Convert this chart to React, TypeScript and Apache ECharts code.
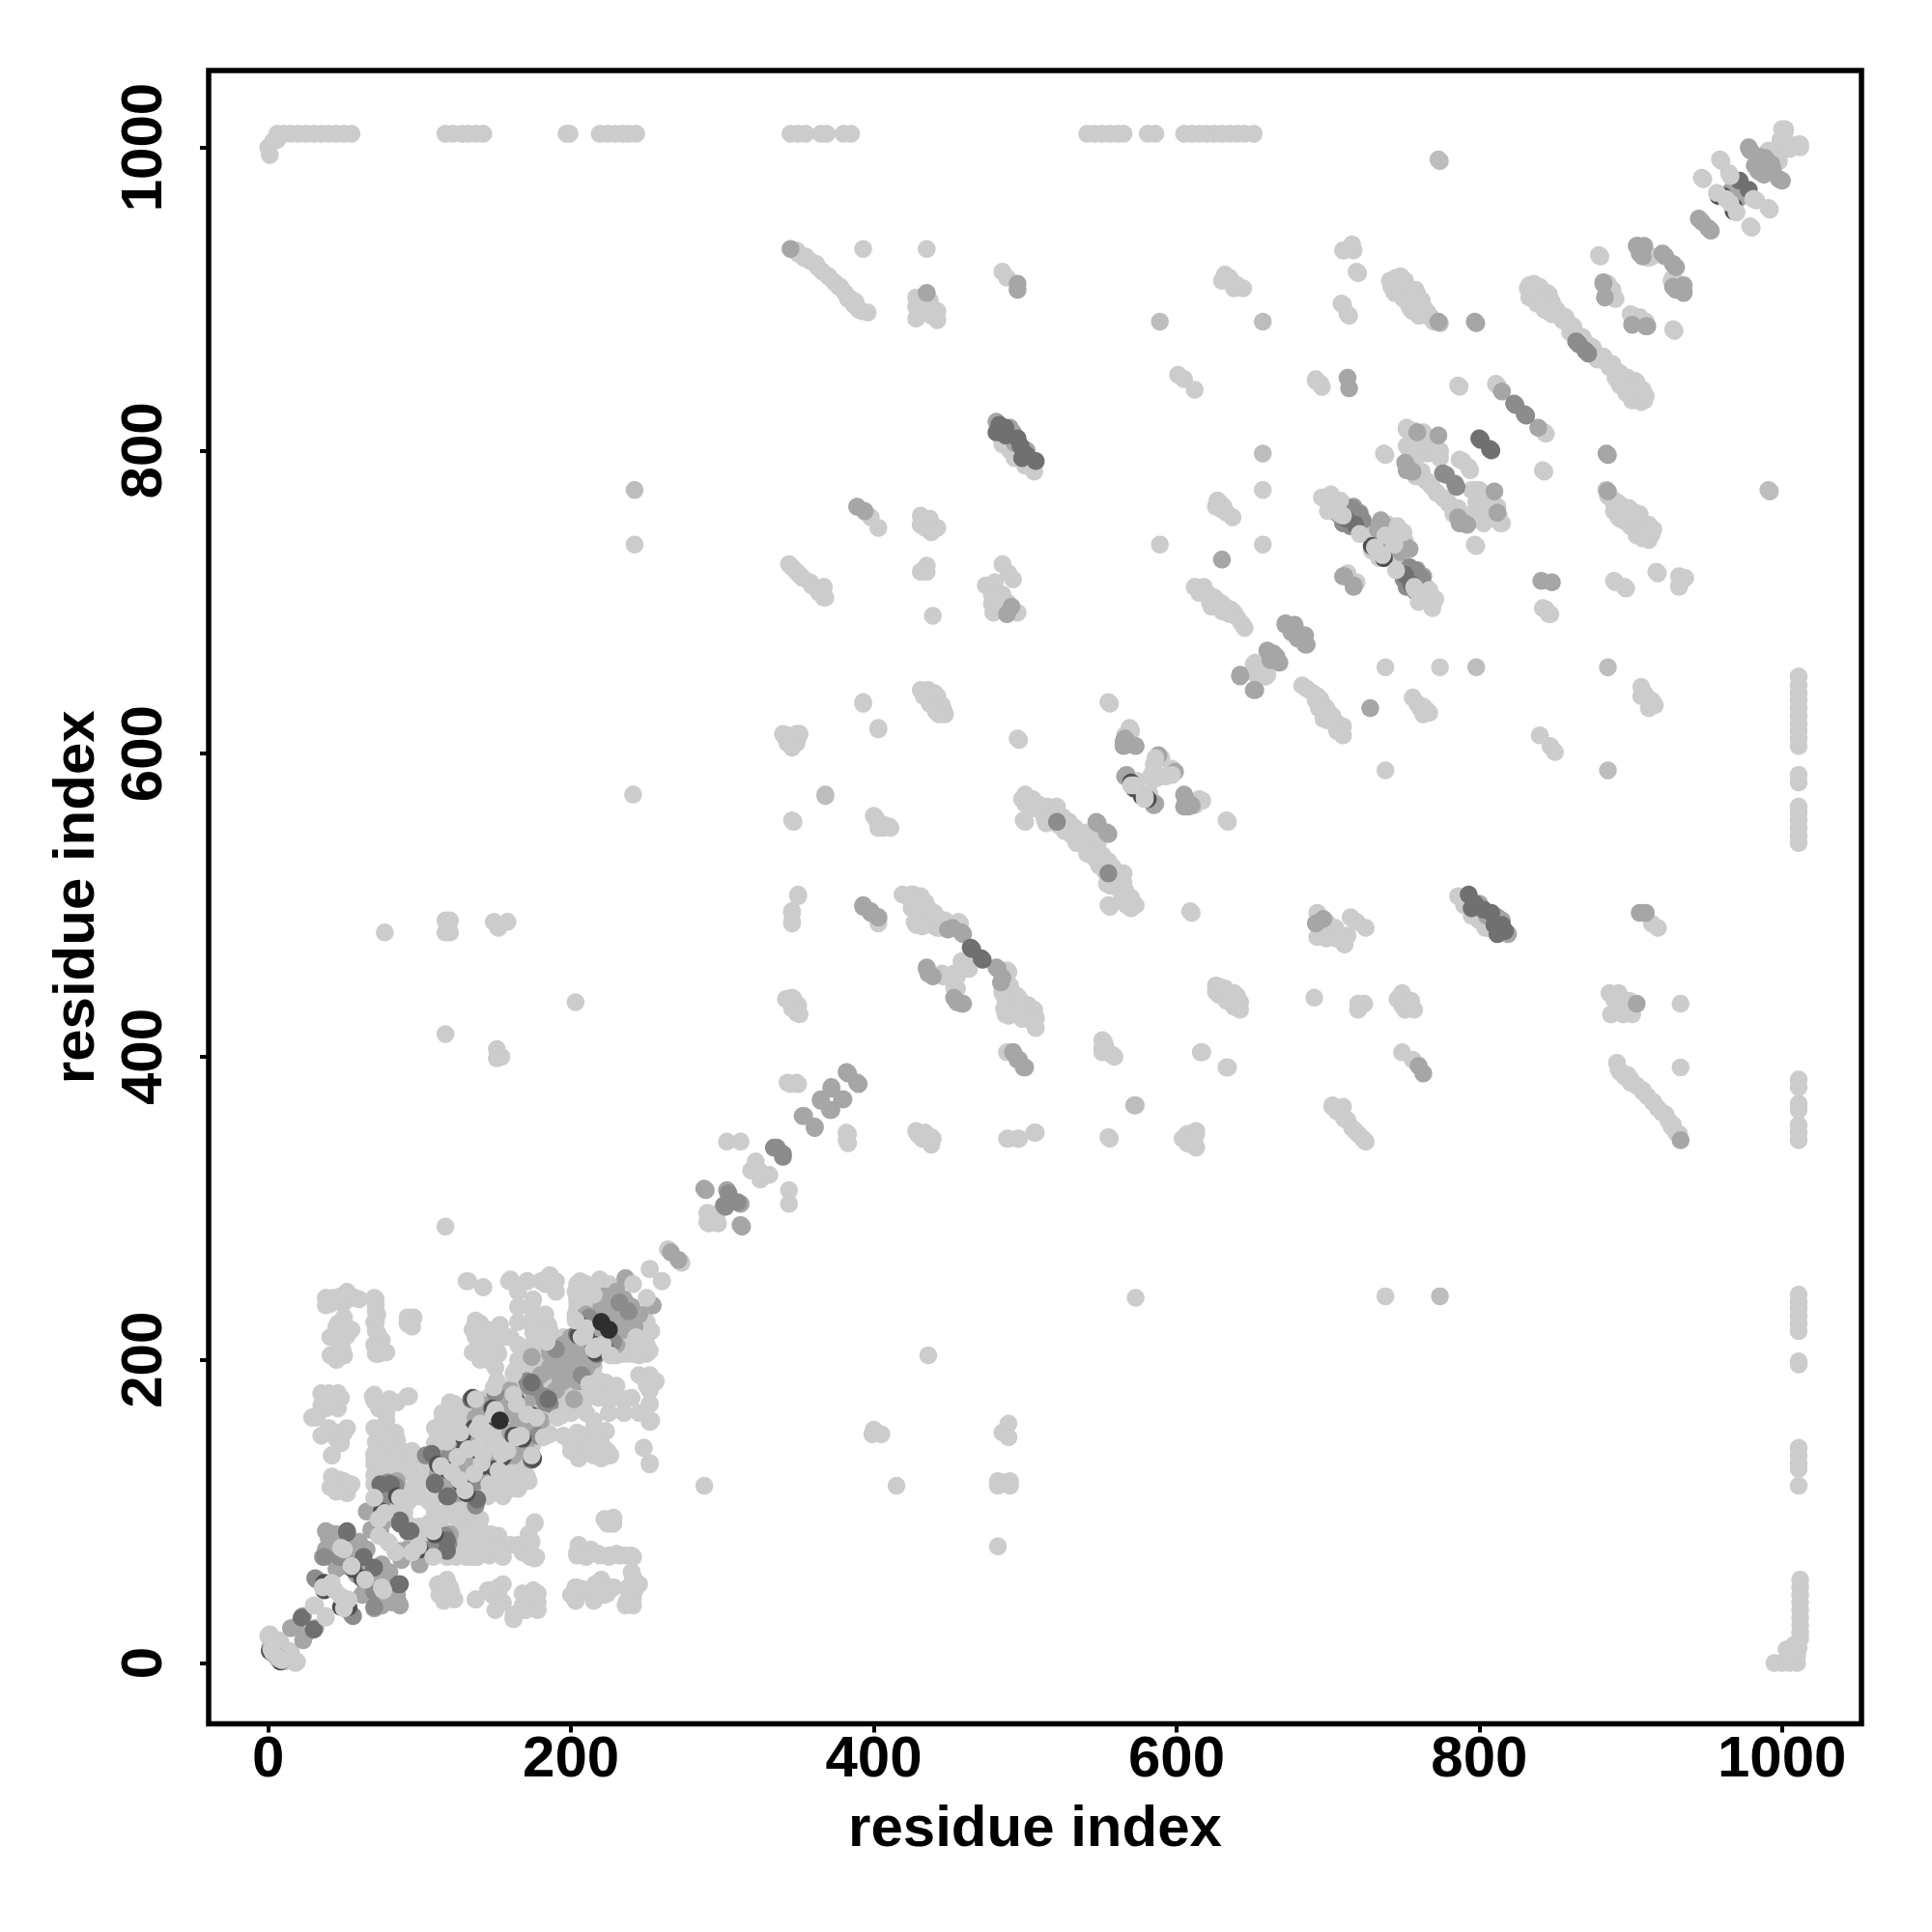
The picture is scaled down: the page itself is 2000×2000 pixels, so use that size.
import React, { useEffect, useRef } from "react";
import * as echarts from "echarts";

type P = [number, number];

const tickValues = [0, 200, 400, 600, 800, 1000];
const axisTitle = "residue index";

// Residues that contact the C-terminal residue (vertical column / top row)
const edgeLow: number[] = [16, 20, 25, 30, 35, 40, 45, 50, 55];
const edgeHigh: number[] = [117, 128, 132, 137, 142, 197, 199, 219, 224, 229, 234, 238, 243, 345, 350, 355, 365, 369, 380, 385, 541, 546, 551, 556, 561, 565, 581, 586, 605, 610, 615, 620, 625, 630, 635, 640, 645, 651];
const rowValues: number[] = [6, 10, 15, 20, 25, 30, 35, 40, 45, 50, 55, 117, 122, 128, 132, 137, 142, 197, 199, 219, 224, 229, 234, 238, 243, 345, 350, 355, 365, 369, 380, 385, 541, 546, 551, 556, 561, 565, 581, 586, 605, 610, 615, 620, 625, 630, 635, 640, 645, 651];
const cornerPoints: P[] = [[995, 0], [1000, 0], [1005, 0], [1010, 0], [1005, 5], [1010, 5], [1011, 10], [1003, 9], [1008, 12], [1, 995], [0, 1000], [3, 1004], [6, 1005]];

// Each contact is also drawn mirrored across the diagonal
const lightContacts: P[] = [
  [1002, 1011], [1012, 1002], [999, 1005], [995, 997], [1005, 1002], [997, 993], [991, 998], [960, 991], [948, 979], [965, 983], [968, 960], [992, 959], [980, 947],
  [914, 928], [927, 912], [880, 928], [929, 879], [888, 906], [890, 900], [901, 889], [910, 885],
  [833, 909], [840, 908], [846, 903], [838, 900], [849, 895], [857, 888], [862, 882], [869, 873], [875, 868], [883, 859], [889, 853], [893, 843], [898, 848], [904, 845], [910, 836], [904, 837], [907, 832],
  [711, 932], [715, 934], [717, 932], [720, 917], [710, 896], [714, 889],
  [743, 912], [747, 910], [751, 910], [744, 904], [759, 903], [754, 895], [763, 895], [760, 889], [765, 889],
  [692, 846], [695, 844], [696, 842], [787, 842], [812, 843], [844, 811], [843, 786],
  [752, 814], [763, 810], [769, 806], [774, 800], [762, 800], [754, 800], [738, 797], [789, 793], [794, 787], [762, 786], [769, 776], [777, 768], [784, 762], [787, 758],
  [799, 774], [795, 774], [807, 768], [812, 763], [800, 763], [801, 755], [815, 752], [810, 758], [798, 737],
  [891, 766], [899, 762], [906, 758], [891, 758], [897, 753], [912, 751], [914, 745], [905, 747], [912, 741],
  [918, 719], [933, 716], [936, 716], [932, 710], [890, 713], [897, 709], [844, 695], [847, 692], [713, 718], [719, 713],
  [697, 769], [703, 768], [710, 765], [728, 749], [742, 749], [751, 740], [729, 734], [736, 730], [744, 740],
  [738, 657], [774, 657], [693, 638], [699, 630], [703, 623], [710, 618], [710, 612], [697, 623],
  [756, 637], [761, 630], [765, 629], [763, 626], [767, 627], [907, 644], [907, 638], [914, 635], [916, 632], [912, 630], [840, 612], [847, 605], [850, 601], [738, 589],
  [786, 506], [797, 494], [804, 485], [815, 485], [914, 488], [918, 485],
  [693, 495], [702, 484], [715, 492], [719, 489], [725, 485], [711, 479], [711, 474], [693, 479], [699, 478],
  [691, 439], [720, 435], [724, 435], [720, 431], [749, 442], [746, 438], [754, 434], [751, 431], [757, 431],
  [886, 442], [892, 442], [895, 435], [887, 428], [901, 428], [933, 435],
  [749, 403], [756, 398], [891, 396], [893, 390], [900, 383], [908, 377], [915, 370], [923, 362], [927, 354], [932, 349], [933, 393], [898, 388],
  [703, 367], [710, 367], [711, 359], [718, 351], [725, 344],
  [342, 610], [350, 611], [346, 604], [340, 613], [351, 613], [393, 633], [403, 616],
  [433, 640], [440, 640], [440, 633], [446, 629], [443, 626], [447, 626], [347, 555], [401, 558], [406, 551], [411, 551], [403, 551], [496, 609], [556, 633],
  [570, 615], [590, 597], [583, 585], [593, 585], [574, 582], [617, 569], [612, 566], [634, 555], [652, 656], [658, 651],
  [500, 571], [507, 566], [520, 564], [514, 563], [529, 553], [522, 553], [514, 554], [500, 555], [543, 547], [548, 541], [541, 534], [555, 529], [565, 521], [556, 513], [565, 515], [568, 505], [573, 500], [567, 500], [556, 499], [610, 495],
  [350, 506], [346, 495], [346, 488], [403, 488], [425, 507], [431, 506], [427, 499], [442, 492], [428, 487], [435, 494], [444, 485], [457, 488],
  [489, 456], [446, 453], [455, 453], [459, 462], [463, 458], [455, 445], [485, 442], [492, 436], [497, 436], [489, 427], [497, 430], [507, 426], [507, 419], [501, 426],
  [343, 438], [347, 438], [346, 432], [351, 428], [350, 434], [627, 445], [632, 445], [638, 442], [642, 436], [636, 436], [642, 431],
  [552, 410], [552, 404], [559, 400], [617, 403], [634, 393], [490, 403], [345, 382], [350, 382], [383, 349], [383, 343], [429, 349], [433, 349], [439, 346], [438, 342],
  [489, 346], [496, 346], [507, 350], [556, 346], [607, 349], [613, 349], [607, 343], [612, 343], [344, 312], [344, 303], [319, 325], [327, 321], [324, 325], [331, 322],
  [573, 241], [738, 242], [436, 203], [400, 154], [405, 151], [399, 151], [489, 158], [485, 152], [489, 149],
  [482, 120], [490, 120], [482, 117], [490, 117], [485, 119], [415, 117], [482, 77], [273, 264], [252, 260], [260, 252], [295, 296], [290, 291], [297, 290], [288, 117],
];

// Further dots inside the continuous streaks
const streakLight: P[] = [
  [892, 392], [896, 387], [900, 385], [904, 381], [908, 378], [911, 374], [915, 370], [918, 366], [921, 363], [925, 358], [928, 355], [930, 350],
  [703, 368], [706, 364], [709, 362], [713, 358], [716, 353], [720, 349], [723, 346],
  [695, 636], [697, 632], [700, 628], [703, 625], [706, 620], [708, 616], [694, 630], [700, 622], [706, 615], [692, 635], [683, 645], [686, 643], [690, 640],
  [700, 768], [706, 766], [712, 762], [733, 746], [738, 742], [745, 745], [740, 735], [748, 735], [733, 738], [742, 730], [765, 706],
  [759, 783], [765, 780], [772, 772], [780, 765], [783, 758], [786, 755],
  [893, 762], [896, 760], [900, 757], [903, 752], [908, 750], [910, 746], [908, 742], [915, 748], [893, 755], [900, 750],
  [836, 905], [843, 902], [841, 897], [847, 899], [851, 892], [845, 892], [853, 890], [859, 884], [860, 878], [877, 864], [880, 862], [886, 855], [890, 848], [895, 845], [900, 842], [903, 840], [907, 840], [901, 833], [893, 851], [897, 838],
  [749, 905], [752, 900], [756, 900], [758, 894], [768, 888], [745, 907], [760, 897], [764, 893], [756, 892], [770, 885],
  [504, 568], [510, 565], [517, 562], [525, 558], [533, 551], [526, 549], [531, 546], [536, 545], [540, 540], [545, 535], [550, 530], [556, 525], [560, 522], [563, 518], [560, 512], [566, 510], [570, 505], [564, 505], [570, 498],
  [428, 504], [434, 502], [431, 498], [437, 497], [433, 492], [440, 495], [447, 490], [449, 487], [445, 490],
  [487, 438], [490, 434], [493, 432], [496, 434], [499, 429], [503, 427], [505, 423], [498, 425], [491, 430], [486, 432],
  [436, 637], [443, 632], [445, 630], [437, 635], [441, 628],
  [700, 488], [705, 485], [708, 480], [713, 480], [705, 478],
  [790, 500], [795, 493], [800, 490], [806, 485], [810, 483],
  [630, 443], [634, 441], [633, 437], [640, 438], [638, 433], [553, 407], [556, 402],
  [748, 440], [752, 437], [749, 434], [755, 437], [759, 633], [763, 631], [909, 640], [911, 637], [913, 632], [908, 641],
  [889, 438], [892, 435], [897, 431], [892, 430], [899, 437], [895, 428],
  [803, 771], [798, 766], [805, 760], [804, 765], [808, 755], [797, 760], [810, 764], [813, 757], [803, 752],
  [756, 812], [760, 808], [767, 803], [758, 802], [765, 806], [771, 803],
  [651, 659], [656, 656], [654, 650], [660, 652],
];

const blockLight: P[] = [
  [0, 18], [7, 15], [3, 6], [11, 1], [19, 1], [14, 8], [9, 1],
  [116, 53], [121, 47], [116, 41], [112, 52], [137, 42], [152, 48], [152, 41], [148, 45], [173, 42], [176, 41], [162, 29], [168, 38],
  [203, 50], [203, 41], [215, 48], [221, 52], [215, 41], [224, 46], [241, 57], [242, 48], [236, 38], [241, 43],
  [204, 73], [213, 74], [225, 70], [236, 71], [241, 70], [219, 71], [227, 95], [224, 92],
  [176, 92], [171, 75], [177, 70], [138, 79], [135, 92], [152, 84], [146, 71], [152, 74], [124, 70], [131, 70], [138, 70],
  [41, 237], [49, 242], [55, 241], [71, 240], [71, 225], [94, 226], [49, 223], [43, 215], [75, 213], [43, 203], [50, 203], [71, 204],
  [40, 174], [29, 162], [46, 152], [42, 137], [47, 118], [52, 117], [69, 176], [75, 171], [93, 176],
  [75, 151], [83, 151], [75, 140], [92, 135], [72, 132], [70, 118], [80, 142],
  [185, 254], [160, 253], [171, 252], [132, 252], [142, 248], [173, 235], [185, 223], [153, 223], [137, 225], [141, 206], [151, 206], [146, 215], [170, 208], [175, 218],
  [216, 176], [224, 174], [236, 174], [252, 171], [252, 159], [226, 137], [248, 142], [252, 131], [204, 152], [204, 140], [217, 152], [223, 153], [213, 141], [224, 140], [250, 185], [256, 186], [252, 180], [219, 186],
  [204, 250], [204, 242], [204, 235], [219, 253], [219, 242], [203, 228], [252, 206], [252, 219], [239, 204],
  [123, 171], [116, 157], [112, 147], [121, 147], [131, 164], [158, 181], [151, 186], [163, 193],
  [120, 100], [110, 100], [100, 90], [90, 95], [105, 85], [115, 95], [125, 95], [110, 90], [90, 105], [85, 100], [100, 110], [110, 110], [120, 105], [95, 80], [130, 105], [150, 120], [155, 110], [145, 110], [160, 115], [165, 125], [135, 145], [130, 150], [125, 155], [145, 150], [150, 155], [170, 140], [165, 135], [175, 145], [160, 175], [170, 175], [165, 185], [175, 190], [185, 185], [195, 175], [200, 165], [210, 165], [215, 160], [225, 165], [235, 165], [245, 165], [190, 170], [180, 200], [185, 210], [195, 215], [180, 215], [210, 180], [205, 190], [230, 203], [245, 203], [245, 205], [240, 215], [250, 210], [225, 210], [205, 225], [212, 240], [225, 250], [248, 225], [240, 235],
  [50, 238], [45, 240], [60, 240], [50, 215], [55, 220], [45, 220], [71, 232], [72, 218], [71, 210], [78, 205], [92, 226], [96, 228], [45, 205], [40, 170], [46, 168], [40, 178], [46, 178], [40, 155], [50, 152], [48, 147], [45, 120], [50, 115], [55, 118], [70, 173], [73, 168], [78, 165], [75, 148], [78, 145], [85, 147], [88, 140], [70, 135], [75, 128], [85, 130], [75, 120], [72, 125], [85, 125], [95, 140], [98, 135], [125, 167], [128, 160], [120, 172], [115, 165],
  [140, 200], [150, 195], [145, 200], [145, 220], [137, 215], [175, 240], [183, 250], [190, 252], [190, 245], [175, 228], [175, 210], [183, 230],
  [200, 45], [207, 49], [210, 70], [230, 72], [216, 52], [222, 45], [228, 50], [238, 48], [245, 52], [241, 38], [120, 50], [113, 45], [123, 42], [150, 35], [155, 52], [145, 48], [170, 35], [178, 35], [175, 48], [162, 32], [130, 75], [135, 85], [150, 78], [160, 78], [128, 85], [140, 72], [155, 70], [174, 80], [172, 85], [228, 92], [222, 95],
  [215, 145], [220, 135], [210, 150], [215, 155], [200, 145], [205, 135], [255, 185],
];

const gray76: P[] = [[774, 991], [992, 773], [798, 657], [885, 657], [885, 589], [573, 368], [368, 572], [774, 884], [774, 242]];

const grayA: P[] = [
  [979, 998], [989, 993], [982, 988], [994, 985], [1000, 978], [985, 984], [971, 966], [947, 951], [953, 945],
  [904, 935], [909, 935], [908, 928], [923, 928], [930, 921], [935, 905], [930, 906], [882, 910], [883, 901], [911, 882],
  [798, 884], [815, 839], [841, 714], [848, 713], [885, 797], [885, 773], [759, 812], [773, 810], [752, 790], [756, 786], [787, 752], [792, 751],
  [711, 717], [717, 710], [735, 751], [735, 741], [754, 735], [759, 721], [763, 717], [728, 630], [692, 488], [697, 491],
  [800, 501], [812, 492], [819, 481], [906, 495], [910, 495], [904, 435], [760, 394], [763, 389], [933, 345], [805, 493], [815, 490],
  [566, 610], [565, 605], [573, 605], [599, 588], [566, 585], [586, 567], [606, 570], [608, 565], [642, 651], [652, 642], [548, 554], [555, 547],
  [393, 499], [398, 495], [403, 492], [452, 485], [459, 481], [482, 458], [484, 449], [435, 458], [439, 453], [455, 436], [459, 435], [492, 403], [496, 398], [500, 393],
  [383, 389], [390, 382], [372, 379], [365, 371], [380, 372], [372, 365], [354, 361], [361, 353], [266, 271], [289, 312], [312, 303], [313, 288],
  [672, 685], [678, 685], [676, 680], [684, 678], [686, 672], [661, 667], [666, 664], [668, 660], [662, 662],
  [733, 748], [737, 745], [750, 738],
  [15, 23], [24, 18], [31, 23], [55, 32], [40, 86], [36, 70], [48, 64], [71, 60], [58, 59], [87, 38], [68, 88], [87, 74], [73, 106],
  [57, 68], [60, 65], [45, 62], [42, 70], [46, 80], [52, 72], [65, 60], [68, 55], [80, 60], [75, 65], [85, 45], [82, 40], [75, 38], [72, 45], [80, 52], [92, 75], [100, 65], [105, 75], [112, 80], [120, 85],
  [125, 130], [115, 125], [120, 120], [125, 112], [135, 115], [130, 120], [140, 130], [147, 125], [150, 130], [155, 135], [145, 140], [165, 145], [170, 150], [175, 155], [180, 160], [170, 170], [180, 175], [190, 180], [195, 190], [200, 195], [190, 200], [205, 205], [195, 210], [210, 195], [215, 200], [215, 215], [230, 210], [220, 235], [240, 225], [235, 240], [245, 230], [230, 225], [222, 242],
  [155, 170], [150, 165], [145, 170], [140, 165], [160, 165], [165, 160],
  [131, 137], [138, 134], [162, 137], [160, 152], [174, 163], [195, 186], [186, 206], [185, 193],
  [204, 198], [200, 203], [204, 186], [202, 174], [228, 240], [236, 228], [253, 236], [236, 254],
];

const grayB: P[] = [
  [31, 56], [70, 47], [70, 37], [104, 137], [119, 79], [117, 84], [109, 76], [176, 182], [171, 186], [190, 207], [183, 172], [238, 232], [228, 212], [120, 137], [150, 178],
  [304, 310], [302, 301], [340, 334], [336, 340], [824, 830], [831, 823], [778, 784], [785, 776], [752, 721], [757, 711],
  [866, 870], [872, 864], [716, 762], [707, 758], [721, 758], [555, 521],
  [708, 760], [712, 757], [715, 760], [719, 756], [723, 754], [715, 750], [710, 752], [755, 720], [758, 716],
];

const grayC: P[] = [
  [972, 978], [801, 807], [808, 800], [465, 471], [472, 464], [793, 507], [795, 498], [808, 495], [797, 501], [803, 497], [810, 487], [817, 483],
  [22, 30], [52, 86], [63, 70], [87, 52], [81, 118], [74, 118], [87, 92], [94, 87], [110, 118], [119, 110], [138, 108], [134, 174], [174, 137], [185, 174], [217, 204], [712, 755], [718, 751], [815, 487], [812, 481],
];

const slivers: P[] = [
  [37, 53], [48, 37], [112, 131], [119, 127], [130, 142], [136, 155], [140, 139], [150, 128], [205, 216], [208, 222], [215, 210], [135, 175], [148, 168], [162, 150], [175, 163], [62, 56], [85, 110], [75, 100], [1, 8], [7, 3], [961, 968], [968, 958], [706, 760], [570, 581], [577, 572], [729, 737],
];

const lightTop: P[] = [
  [40, 51], [50, 36], [114, 130], [121, 126], [132, 141], [138, 154], [142, 138], [152, 127], [207, 215], [210, 221], [217, 209], [137, 174], [150, 167], [164, 149], [177, 162], [64, 55], [87, 109], [77, 99], [3, 7], [9, 2], [963, 966], [970, 957], [708, 758], [572, 579], [579, 570], [731, 736],
  [44, 48], [53, 42], [31, 38], [38, 30], [48, 76], [75, 50], [73, 84], [80, 79], [95, 73],
  [97, 115], [107, 106], [107, 93], [109, 70],
  [146, 118], [160, 125], [170, 123], [136, 125], [140, 158], [164, 171], [182, 149], [191, 162],
  [212, 184], [226, 203], [243, 215], [241, 250], [143, 150],
  [1012, 1000], [981, 966], [586, 597], [587, 584], [700, 760], [746, 750], [757, 710], [763, 706], [767, 708], [771, 702], [769, 696], [721, 745], [738, 744],
];

const darkest: P[] = [[153, 160], [220, 225], [225, 220]];

const layers: { color: string; points: P[] }[] = [
  { color: "#cccccc", points: [...lightContacts, ...streakLight, ...blockLight] },
  { color: "#bdbdbd", points: gray76 },
  { color: "#a6a6a6", points: grayA },
  { color: "#8c8c8c", points: grayB },
  { color: "#707070", points: grayC },
  { color: "#505050", points: slivers },
  { color: "#cdcdcd", points: lightTop },
];

function withMirror(points: P[]): P[] {
  const out: P[] = [];
  for (const [x, y] of points) {
    out.push([x, y]);
    out.push([y, x]);
  }
  return out;
}

const edgePoints: P[] = [
  ...edgeLow.map((v): P => [1012, v]),
  ...edgeHigh.map((v): P => [1011, v]),
  ...rowValues.map((v): P => [v, 1009]),
  ...cornerPoints,
];

const FONT = "Liberation Sans";

export default function App() {
  const ref = useRef<HTMLDivElement>(null);
  useEffect(() => {
    const chart = echarts.init(ref.current!, undefined, { renderer: "svg" });
    const axisCommon = {
      type: "value" as const,
      name: axisTitle,
      nameLocation: "middle" as const,
      nameTextStyle: { fontFamily: FONT, fontWeight: "bold" as const, fontSize: 60, color: "#000" },
      splitLine: { show: false },
      axisLine: { show: false, onZero: false },
    };
    const tickStyle = { show: true, length: 9, lineStyle: { color: "#000", width: 4 }, customValues: tickValues };
    const labelStyle = { show: true, fontFamily: FONT, fontWeight: "bold" as const, fontSize: 60, color: "#000", customValues: tickValues, hideOverlap: false, formatter: (v: number) => String(v) };
    const dot = (color: string, data: P[]) => ({
      type: "scatter",
      symbolSize: 18.5,
      silent: true,
      itemStyle: { color, opacity: 1 },
      data,
    });
    const series: any[] = [
      dot("#cccccc", edgePoints),
      ...layers.map((l) => dot(l.color, withMirror(l.points))),
      dot("#2e2e2e", darkest),
    ];
    chart.setOption({
      animation: false,
      backgroundColor: "#ffffff",
      grid: { show: true, left: 216, right: 73, top: 73, bottom: 215.5, borderColor: "#000", borderWidth: 5.5, backgroundColor: "transparent" },
      xAxis: { ...axisCommon, min: -39.4, max: 1052.5, nameGap: 76, axisTick: tickStyle, axisLabel: { ...labelStyle, margin: 4 } },
      yAxis: { ...axisCommon, min: -40.1, max: 1050.7, nameGap: 110, axisTick: tickStyle, axisLabel: { ...labelStyle, rotate: 90, margin: 70, verticalAlign: "middle", align: "center" } },
      series,
    });
    return () => chart.dispose();
  }, []);
  return <div ref={ref} style={{ position: "absolute", left: 0, top: 0, width: 2000, height: 2000 }} />;
}
